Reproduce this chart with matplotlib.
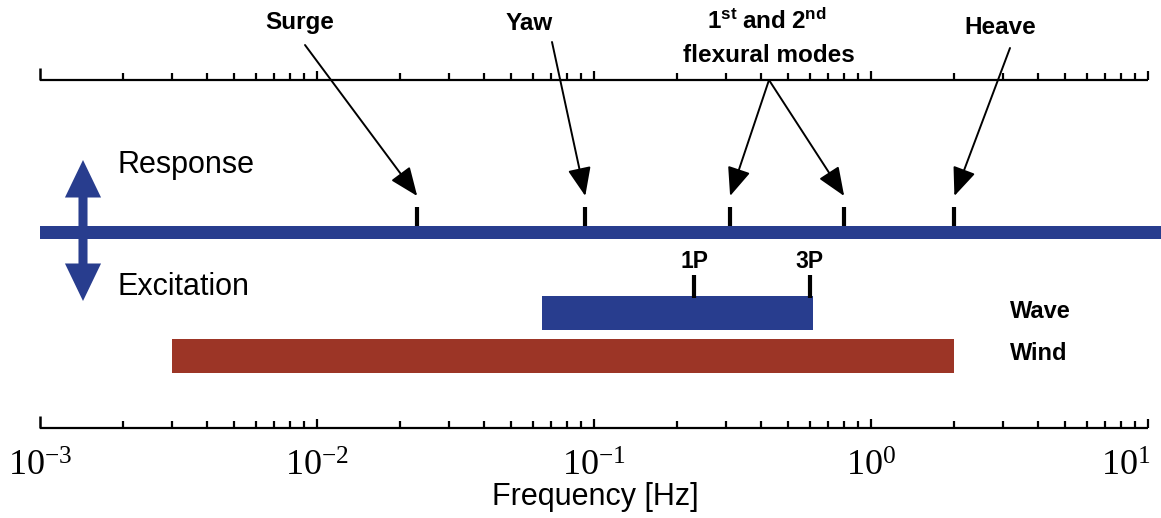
import numpy as np
import matplotlib
matplotlib.use("Agg")
import matplotlib.pyplot as plt
import matplotlib.transforms as mtransforms

# frequencies in Hz
decades = [1e-3, 1e-2, 1e-1, 1e0, 1e1]
decade_labels = [r'$10^{-3}$', r'$10^{-2}$', r'$10^{-1}$', r'$10^{0}$', r'$10^{1}$']

response_names = ['Surge', 'Yaw', 'flex1', 'flex2', 'Heave']
response_freqs = [0.023, 0.093, 0.31, 0.80, 2.0]

rotor_names = ['1P', '3P']
rotor_freqs = [0.23, 0.60]

band_names = ['Wave', 'Wind']
band_low = [0.065, 0.003]
band_high = [0.62, 2.0]

response_span = [1e-3, 11.2]

BLUE = '#283d8e'
RED = '#9c3526'
W, H = 1161, 518

plt.rcParams['font.family'] = ['Liberation Sans', 'DejaVu Sans']
plt.rcParams['mathtext.fontset'] = 'custom'
plt.rcParams['mathtext.rm'] = 'Liberation Serif'
plt.rcParams['mathtext.it'] = 'Liberation Serif:italic'
plt.rcParams['mathtext.bf'] = 'Liberation Sans:bold'

fig = plt.figure(figsize=(W / 100, H / 100), dpi=100)
ax = fig.add_axes([0, 0, 1, 1])
ax.set_xscale('log')
# 10^-3 sits at px 40, one decade is ~277 px
ax.set_xlim(10 ** (-3 - 40 / 277), 10 ** (-3 + (W - 40) / 277))
ax.set_ylim(H, 0)
ax.axis('off')

# pixel coords, y down like the picture
pix = mtransforms.Affine2D().scale(1, -1).translate(0, H)


def ruler(y):
    ax.plot([decades[0], decades[-1]], [y, y], color='k', lw=1.6, solid_capstyle='butt')
    minor = [m * d for d in decades[:-1] for m in range(2, 10)]
    ax.vlines(minor, y - 7, y, color='k', lw=1.6)
    ax.vlines(decades[1:], y - 9, y, color='k', lw=1.6)
    ax.vlines(decades[0], y - 12, y, color='k', lw=1.8)


ruler(80)
ruler(428)

tick_ha = ['center', 'center', 'center', 'center', 'right']
for f, lab, ha in zip(decades, decade_labels, tick_ha):
    ax.text(f * (1.02 if ha == 'right' else 1.0), 466, lab, ha=ha, va='center', fontsize=26)
ax.text(595, 497, 'Frequency [Hz]', transform=pix, ha='center', va='center', fontsize=22)

# response line and its modes
ax.barh(232, response_span[1] - response_span[0], left=response_span[0], height=13,
        color=BLUE, lw=0)
ax.vlines(response_freqs, 207, 226, color='k', lw=3)

# excitation bands
band_y = [313, 356]
band_colors = [BLUE, RED]
for lo, hi, y, c, name in zip(band_low, band_high, band_y, band_colors, band_names):
    ax.barh(y, hi - lo, left=lo, height=34, color=c, lw=0)
    ax.text(1010, y - 2, name, transform=pix, ha='left', va='center',
            fontsize=17, fontweight='bold')

ax.vlines(rotor_freqs, 275, 298, color='k', lw=3)
for f, name in zip(rotor_freqs, rotor_names):
    ax.text(f, 262, name, ha='center', va='center', fontsize=16.5, fontweight='bold')

# double arrow + side labels
for y_end in [160, 301]:
    ax.annotate('', xy=(83, y_end), xycoords=pix, xytext=(83, 232), textcoords=pix,
                arrowprops=dict(arrowstyle='simple,head_length=2.7,head_width=2.6,tail_width=0.65',
                                fc=BLUE, ec='none', mutation_scale=10, shrinkA=0, shrinkB=0))
ax.text(118, 165, 'Response', transform=pix, ha='left', va='center', fontsize=22)
ax.text(118, 287, 'Excitation', transform=pix, ha='left', va='center', fontsize=22)

# callout labels
arrow_kw = dict(arrowstyle='-|>,head_length=1.1,head_width=0.45', color='k', lw=1.4,
                mutation_scale=16, shrinkA=0, shrinkB=0)
label_pos = {'Surge': (300, 22), 'Yaw': (529, 24), 'Heave': (1000, 28)}
arrow_start = {'Surge': (305, 45), 'Yaw': (552, 42), 'flex1': (769, 80),
               'flex2': (769, 80), 'Heave': (1010, 48)}
for name, (tx, ty) in label_pos.items():
    ax.text(tx, ty, name, transform=pix, ha='center', va='center',
            fontsize=17.5, fontweight='bold')
ax.text(767, 21, r'$\mathbf{1^{st}\ and\ 2^{nd}}$', transform=pix, ha='center',
        va='center', fontsize=17.5)
ax.text(769, 55, 'flexural modes', transform=pix, ha='center', va='center',
        fontsize=17.5, fontweight='bold')

for name, f in zip(response_names, response_freqs):
    ax.annotate('', xy=(f, 196), xycoords='data', xytext=arrow_start[name],
                textcoords=pix, arrowprops=arrow_kw)

fig.savefig('out.png', dpi=100)
